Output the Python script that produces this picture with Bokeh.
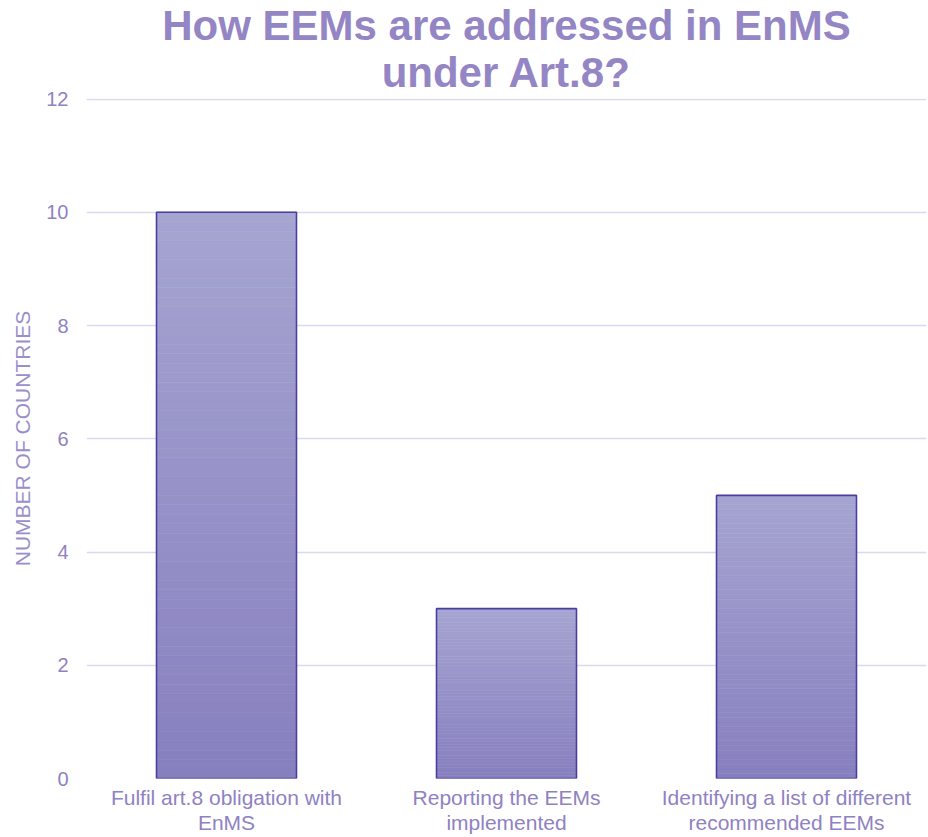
from bokeh.plotting import figure
from bokeh.models import Title, Range1d, FixedTicker
from bokeh.embed import file_html
from bokeh.resources import INLINE

categories = ["Fulfil art.8 obligation with\nEnMS",
              "Reporting the EEMs\nimplemented",
              "Identifying a list of different\nrecommended EEMs"]
values = [10, 3, 5]
y_ticks = [0, 2, 4, 6, 8, 10, 12]
title_lines = ["How EEMs are addressed in EnMS", "under Art.8?"]

TOP_COLOR = (166, 164, 209)
BOTTOM_COLOR = (135, 128, 191)
OUTLINE = "#4a3fa0"
TEXT = "#8f82c2"
TITLE_COLOR = "#9485c4"
GRID = "#dcd8ee"
FONT = "Liberation Sans"

p = figure(x_range=categories, width=927, height=836,
           output_backend="svg", toolbar_location=None,
           min_border_left=86, min_border_right=1,
           min_border_top=98, min_border_bottom=56)
p.y_range = Range1d(0, 12.01)
p.outline_line_color = None

# gradient bars built from strips
N = 60
xs, bottoms, tops, colors = [], [], [], []
for c, v in zip(categories, values):
    for i in range(N):
        t = i / (N - 1)
        r = round(BOTTOM_COLOR[0] + (TOP_COLOR[0] - BOTTOM_COLOR[0]) * t)
        g = round(BOTTOM_COLOR[1] + (TOP_COLOR[1] - BOTTOM_COLOR[1]) * t)
        b = round(BOTTOM_COLOR[2] + (TOP_COLOR[2] - BOTTOM_COLOR[2]) * t)
        col = "#%02x%02x%02x" % (r, g, b)
        xs.append(c)
        bottoms.append(v * i / N)
        tops.append(v * (i + 1) / N)
        colors.append(col)

p.vbar(x=xs, bottom=bottoms, top=tops, width=0.5, fill_color=colors,
       line_color=colors, line_width=0.6)
p.vbar(x=categories, top=values, bottom=0, width=0.5, fill_color=None,
       line_color=OUTLINE, line_width=1.6)

# grid
p.xgrid.grid_line_color = None
p.ygrid.grid_line_color = GRID
p.ygrid.grid_line_width = 1.5
p.ygrid.ticker = FixedTicker(ticks=y_ticks)

# y axis
p.yaxis.ticker = FixedTicker(ticks=y_ticks)
p.yaxis.axis_line_color = None
p.yaxis.major_tick_line_color = None
p.yaxis.minor_tick_line_color = None
p.yaxis.major_tick_out = 0
p.yaxis.major_label_standoff = 18
p.yaxis.major_label_text_font = FONT
p.yaxis.major_label_text_font_size = "20px"
p.yaxis.major_label_text_color = TEXT
p.yaxis.axis_label = "NUMBER OF COUNTRIES"
p.yaxis.axis_label_text_font = FONT
p.yaxis.axis_label_text_font_size = "21px"
p.yaxis.axis_label_text_font_style = "normal"
p.yaxis.axis_label_text_color = "#9b8fcb"
p.yaxis.axis_label_standoff = 9

# x axis
p.xaxis.axis_line_color = None
p.xaxis.major_tick_line_color = None
p.xaxis.minor_tick_line_color = None
p.xaxis.major_tick_out = 0
p.xaxis.major_label_standoff = 7
p.xaxis.major_label_text_font = FONT
p.xaxis.major_label_text_font_size = "21px"
p.xaxis.major_label_text_color = TEXT
p.xaxis.major_label_text_line_height = 1.1

# title (two lines, added bottom line first)
t2 = Title(text=title_lines[1], align="center", text_font=FONT,
           text_font_size="42px", text_font_style="bold",
           text_color=TITLE_COLOR, standoff=6, offset=0)
t1 = Title(text=title_lines[0], align="center", text_font=FONT,
           text_font_size="42px", text_font_style="bold",
           text_color=TITLE_COLOR, standoff=-10, offset=0)
p.add_layout(t2, "above")
p.add_layout(t1, "above")

open("out.html", "w").write(file_html(p, INLINE))
